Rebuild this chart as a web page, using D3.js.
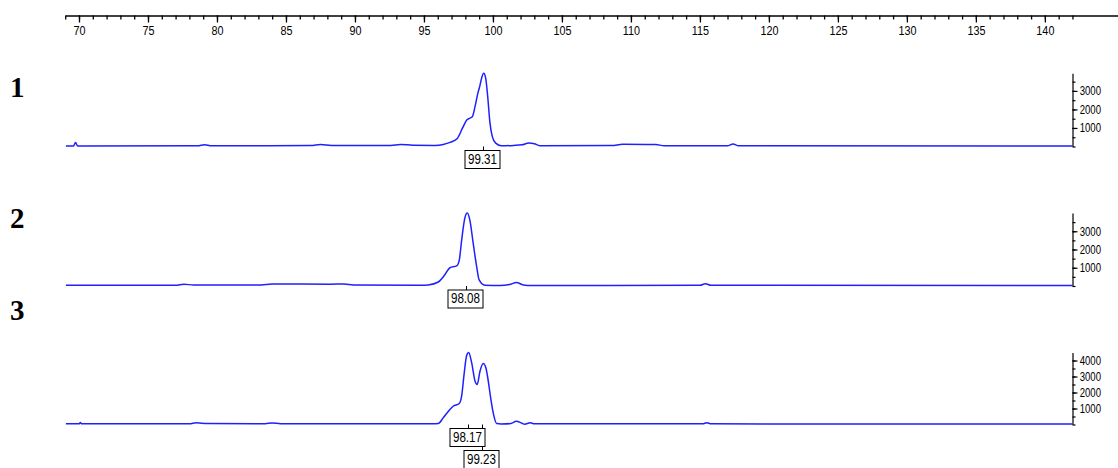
<!DOCTYPE html>
<html>
<head>
<meta charset="utf-8">
<script src="https://cdn.jsdelivr.net/npm/d3@7"></script>
<style>
  body { margin: 0; background: #fff; }
  svg { display: block; }
  .tick text { font-family: "Liberation Sans", Arial, sans-serif; }
</style>
</head>
<body>
<div id="chart"></div>
<script>
// melt curves, one per sample: [temperature, signal]
var trace1 = [
  [69.05,30],[69.6,30],[69.75,220],[69.9,30],
  [78.6,40],[79.1,100],[79.6,40],
  [86.8,50],[87.5,110],[88.3,60],
  [92.6,60],[93.3,110],[94.2,70],
  [95.8,60],[96.4,110],[96.9,220],[97.4,420],[97.8,1000],[98.1,1430],[98.3,1520],[98.5,1600],
  [98.7,2150],[98.9,2850],[99.06,3300],[99.2,3750],[99.33,3950],[99.47,3700],[99.62,2700],
  [99.78,1300],[99.95,550],[100.2,180],[100.6,40],
  [101.5,60],[102.1,90],[102.6,190],[103.0,150],[103.4,40],
  [108.6,50],[109.4,120],[111.8,110],[112.4,40],
  [117.0,40],[117.4,140],[117.8,40],
  [142.0,30]
];
var trace2 = [
  [69.05,40],[77.0,40],[77.6,100],[78.3,50],
  [83.2,60],[84.0,110],[88.2,100],[89.2,110],[89.9,60],
  [94.8,40],[95.3,60],[96.04,220],[96.5,600],[96.88,1000],[97.37,1100],[97.56,1420],
  [97.73,2500],[97.97,3750],[98.14,4000],[98.33,3600],[98.57,2330],[98.82,1060],[99.0,330],
  [99.42,40],[100.5,30],[101.2,80],[101.7,190],[102.2,60],[102.8,30],
  [115.0,40],[115.4,130],[115.8,40],
  [142.0,30]
];
var trace3 = [
  [69.05,40],[70.0,40],[70.1,120],[70.2,40],
  [78.0,40],[78.5,110],[79.3,60],
  [83.5,50],[84.0,100],[84.6,50],
  [95.6,40],[96.04,60],[96.4,420],[96.88,940],[97.12,1140],[97.56,1310],[97.73,1770],
  [97.92,3230],[98.09,4300],[98.24,4500],[98.46,3850],[98.7,2710],[98.86,2500],[99.06,3330],
  [99.3,3810],[99.5,3500],[99.61,3000],[99.83,1700],[100.02,730],[100.27,60],[100.6,30],
  [101.3,60],[101.7,200],[102.1,80],[102.3,20],[102.7,110],[103.0,40],
  [115.2,40],[115.5,110],[115.8,40],
  [142.0,30]
];

var sampleNames = ["1", "2", "3"];
var peakLabels = [[99.31], [98.08], [98.17, 99.23]];
var yMax = [3950, 4000, 4500];
var topTicks = d3.range(70, 141, 5);
var topMinor = d3.range(69, 143, 1);
var yTicks = [1000, 2000, 3000, 4000];

var width = 1118, height = 468;
var narrow = "scale(0.8,1)";

var svg = d3.select("#chart").append("svg")
  .attr("width", width)
  .attr("height", height);

// temperature scale shared by the ruler and all curves
var x = d3.scaleLinear().domain([69, 145.3]).range([65.2, 1118]);

// top ruler
var ruler = svg.append("g").attr("transform", "translate(0,15.5)");
ruler.append("g")
  .call(d3.axisBottom(x).tickValues(topMinor).tickSize(4).tickSizeOuter(0).tickFormat(""));
ruler.append("g")
  .call(d3.axisBottom(x).tickValues(topTicks).tickSize(7).tickSizeOuter(0).tickPadding(3))
  .call(g => g.select(".domain").remove())
  .selectAll("text")
    .attr("font-size", "13.5px")
    .attr("fill", "#000")
    .attr("transform", narrow);
ruler.selectAll("line, path").attr("stroke", "#000").attr("stroke-width", 1.3);

var panels = [
  { data: trace1, base: 146.5, top: 73.3, label: 97 },
  { data: trace2, base: 286, top: 213, label: 228 },
  { data: trace3, base: 424.5, top: 352.5, label: 320 }
];

var axisX = 1072.5;

panels.forEach(function(p, i) {
  var y = d3.scaleLinear().domain([0, yMax[i]]).range([p.base, p.top]);
  var g = svg.append("g");

  // sample number
  g.append("text")
    .attr("x", 10)
    .attr("y", p.label)
    .attr("font-family", "'Liberation Serif', 'Times New Roman', serif")
    .attr("font-weight", "bold")
    .attr("font-size", "29px")
    .text(sampleNames[i]);

  // right signal axis
  var ax = g.append("g").attr("transform", `translate(${axisX},0)`);
  ax.append("g")
    .call(d3.axisRight(y).tickValues(d3.range(0, yMax[i], 500)).tickSize(3).tickSizeOuter(0).tickFormat(""));
  var major = ax.append("g")
    .call(d3.axisRight(y).tickValues(yTicks.filter(t => t < yMax[i])).tickSize(5).tickSizeOuter(0)
      .tickPadding(4).tickFormat(d3.format("d")));
  major.select(".domain").remove();
  major.selectAll("text")
    .attr("font-size", "12px")
    .attr("fill", "#000")
    .attr("x", 9)
    .attr("transform", narrow);
  ax.selectAll("line, path").attr("stroke", "#000").attr("stroke-width", 1.2);

  // curve
  var line = d3.line()
    .x(d => x(d[0]))
    .y(d => y(d[1]))
    .curve(d3.curveMonotoneX);
  g.append("path")
    .datum(p.data)
    .attr("fill", "none")
    .attr("stroke", "#1f1fff")
    .attr("stroke-width", 1.5)
    .attr("d", line);

  // peak markers: connectors first, boxes on top
  var marks = peakLabels[i].map(function(v, k) {
    return { v: v, px: Math.round(x(v)) + 0.5, top: p.base + 4 + k * 22 };
  });
  marks.forEach(function(m) {
    g.append("line")
      .attr("x1", m.px).attr("x2", m.px)
      .attr("y1", p.base).attr("y2", m.top)
      .attr("stroke", "#000").attr("stroke-width", 1);
  });
  marks.forEach(function(m) {
    g.append("rect")
      .attr("x", m.px - 18.5).attr("y", m.top)
      .attr("width", 35).attr("height", 18)
      .attr("fill", "#fff").attr("stroke", "#000").attr("stroke-width", 1);
    g.append("text")
      .attr("x", (m.px - 1) / 0.8).attr("y", m.top + 13.5)
      .attr("text-anchor", "middle")
      .attr("transform", narrow)
      .attr("font-family", "'Liberation Sans', Arial, sans-serif")
      .attr("font-size", "14.5px")
      .text(d3.format(".2f")(m.v));
  });
});
</script>
</body>
</html>
